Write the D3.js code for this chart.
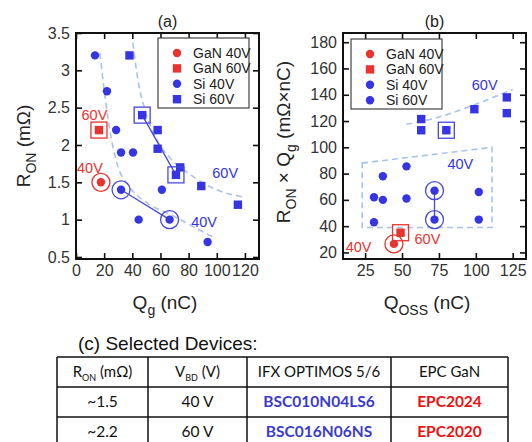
<!DOCTYPE html>
<html>
<head>
<meta charset="utf-8">
<script src="https://cdn.jsdelivr.net/npm/d3@7"></script>
<style>
  body { margin: 0; background: #fff; }
  svg { display: block; font-family: "Liberation Sans", Arial, sans-serif; }
</style>
</head>
<body>
<script>
// panel (a): Qg (nC) vs Ron (mOhm)
var ganA40 = [[17.7, 1.5]];
var ganA60 = [[16.3, 2.2]];
var siA40 = [[13.5, 3.2], [22, 2.72], [28.5, 2.2], [32, 1.9], [40.5, 1.9], [32, 1.4], [61, 1.4], [44.5, 1.0], [66.5, 1.0], [93.5, 0.7]];
var siA60 = [[38, 3.2], [47, 2.4], [58, 2.2], [58, 1.95], [74, 1.7], [71, 1.6], [89, 1.45], [115, 1.2]];
var trendA40 = [[17, 3.23], [20.6, 2.65], [24, 2.2], [29, 1.76], [38, 1.44], [50, 1.23], [67, 1.07], [81, 0.93], [97, 0.77]];
var trendA60 = [[40.4, 3.37], [44, 2.87], [49, 2.47], [57.4, 2.07], [66.7, 1.83], [83, 1.58], [100, 1.4], [120, 1.3]];
var pickA40 = [[32, 1.4], [66.5, 1.0]];
var pickA60 = [[47, 2.4], [71, 1.6]];

// panel (b): Qoss (nC) vs Ron x Qg
var ganB40 = [[44.5, 26.5]];
var ganB60 = [[49, 35]];
var siB40 = [[31, 62], [37, 78], [37, 60], [53, 85.5], [53, 61], [31, 43], [72, 67], [72, 45], [102, 66], [102, 45]];
var siB60 = [[63, 121.5], [63, 113], [80, 113], [99, 129], [121, 138], [121, 126]];
var trendB60 = [[53, 117.5], [75, 123], [98, 132], [125, 144]];
var regionB40 = [[23, 88], [111, 100], [111, 39], [23, 39]];
var pickB40 = [[72, 67], [72, 45]];
var pickB60 = [[80, 113]];

var ticksAx = [0, 20, 40, 60, 80, 100, 120];
var ticksAy = [0.5, 1, 1.5, 2, 2.5, 3, 3.5];
var ticksBx = [25, 50, 75, 100, 125];
var ticksBy = [20, 40, 60, 80, 100, 120, 140, 160, 180];

var legendA = [["GaN 40V", "red", "circle"], ["GaN 60V", "red", "square"], ["Si 40V", "blue", "circle"], ["Si 60V", "blue", "square"]];
var legendB = [["GaN 40V", "red", "circle"], ["GaN 60V", "red", "square"], ["Si 40V", "blue", "circle"], ["Si 60V", "blue", "circle"]];

var tableHead = ["R_ON (mΩ)", "V_BD (V)", "IFX OPTIMOS 5/6", "EPC GaN"];
var tableRows = [["~1.5", "40 V", "BSC010N04LS6", "EPC2024"], ["~2.2", "60 V", "BSC016N06NS", "EPC2020"]];

var BLUE = "#3535e3", RED = "#e8332e", DASH = "#a9c3e9", RING = "#4848dc";
var col = { red: RED, blue: BLUE };

var svg = d3.select("body").append("svg").attr("width", 532).attr("height", 442);

function panel(o) {
  var x = d3.scaleLinear().domain(o.xd).range(o.xr);
  var y = d3.scaleLinear().domain(o.yd).range([259, 33]);
  var g = svg.append("g");

  // axes with inward ticks on all sides
  function ax(a, t, tr, labels) {
    var s = g.append("g").attr("transform", tr).call(a.tickValues(t).tickSizeInner(-6).tickSizeOuter(0)
      .tickPadding(labels ? 6 : 0).tickFormat(labels ? function (d) { return String(d); } : ""));
    s.select(".domain").remove();
    s.selectAll("line").attr("stroke", "#111").attr("stroke-width", 1.6);
    s.selectAll("text").attr("fill", "#333").style("font-size", "16px").style("font-family", "Liberation Sans, Arial");
  }
  ax(d3.axisBottom(x), o.xt, "translate(0,259)", true);
  ax(d3.axisTop(x), o.xt, "translate(0,33)", false);
  ax(d3.axisLeft(y), o.yt, "translate(" + o.xr[0] + ",0)", true);
  ax(d3.axisRight(y), o.yt, "translate(" + o.xr[1] + ",0)", false);

  var line = d3.line().x(function (d) { return x(d[0]); }).y(function (d) { return y(d[1]); });

  // dashed trends
  o.trends.forEach(function (t) {
    g.append("path").attr("d", line.curve(t.closed ? d3.curveLinearClosed : d3.curveMonotoneX)(t.pts))
      .attr("fill", "none").attr("stroke", DASH).attr("stroke-width", 1.6).attr("stroke-dasharray", "6,4");
  });
  line.curve(d3.curveLinear);
  o.links.forEach(function (l) {
    g.append("path").attr("d", line(l)).attr("fill", "none").attr("stroke", RING).attr("stroke-width", 1.3);
  });

  // markers
  function dots(data, c) {
    g.selectAll(null).data(data).enter().append("circle")
      .attr("cx", function (d) { return x(d[0]); }).attr("cy", function (d) { return y(d[1]); })
      .attr("r", 4.2).attr("fill", c);
  }
  function squares(data, c) {
    g.selectAll(null).data(data).enter().append("rect")
      .attr("x", function (d) { return x(d[0]) - 4.2; }).attr("y", function (d) { return y(d[1]) - 4.2; })
      .attr("width", 8.4).attr("height", 8.4).attr("fill", c);
  }
  function rings(data, c) {
    g.selectAll(null).data(data).enter().append("circle")
      .attr("cx", function (d) { return x(d[0]); }).attr("cy", function (d) { return y(d[1]); })
      .attr("r", 9).attr("fill", "none").attr("stroke", c).attr("stroke-width", 1.3);
  }
  function boxes(data, c) {
    g.selectAll(null).data(data).enter().append("rect")
      .attr("x", function (d) { return x(d[0]) - 8; }).attr("y", function (d) { return y(d[1]) - 8; })
      .attr("width", 16).attr("height", 16).attr("fill", "none").attr("stroke", c).attr("stroke-width", 1.3);
  }
  squares(o.si60, BLUE);
  dots(o.si40, BLUE);
  squares(o.gan60, RED);
  dots(o.gan40, RED);
  rings(o.ring40, RING);
  boxes(o.box60, RING);
  rings(o.gan40, RED);
  boxes(o.gan60, RED);

  // annotations
  o.notes.forEach(function (n) {
    g.append("text").attr("x", x(n[1])).attr("y", y(n[2])).attr("dy", "0.35em")
      .attr("text-anchor", "middle").attr("fill", col[n[3]]).style("font-size", "14.5px").text(n[0]);
  });

  // frame
  g.append("rect").attr("x", o.xr[0]).attr("y", 33).attr("width", o.xr[1] - o.xr[0]).attr("height", 226)
    .attr("fill", "none").attr("stroke", "#111").attr("stroke-width", 2);

  // legend
  var lg = g.append("g").attr("transform", "translate(" + o.leg[0] + "," + o.leg[1] + ")");
  lg.append("rect").attr("width", 91).attr("height", 70).attr("fill", "#fff").attr("stroke", "#444").attr("stroke-width", 1.2);
  o.legend.forEach(function (d, i) {
    var yy = 15 + i * 15.4;
    if (d[2] === "circle") lg.append("circle").attr("cx", 19).attr("cy", yy).attr("r", 4.2).attr("fill", col[d[1]]);
    else lg.append("rect").attr("x", 14.8).attr("y", yy - 4.2).attr("width", 8.4).attr("height", 8.4).attr("fill", col[d[1]]);
    lg.append("text").attr("x", 35).attr("y", yy).attr("dy", "0.36em").attr("fill", "#222").style("font-size", "14px").text(d[0]);
  });

  // title
  g.append("text").attr("x", (o.xr[0] + o.xr[1]) / 2).attr("y", 27).attr("text-anchor", "middle")
    .attr("fill", "#222").style("font-size", "16px").text(o.title);
  return { x: x, y: y };
}

panel({
  xd: [0, 130], xr: [76, 259], yd: [0.473, 3.5], xt: ticksAx, yt: ticksAy,
  si40: siA40, si60: siA60, gan40: ganA40, gan60: ganA60,
  ring40: pickA40, box60: pickA60,
  trends: [{ pts: trendA40 }, { pts: trendA60 }], links: [pickA40, pickA60],
  notes: [["60V", 13.1, 2.4, "red"], ["40V", 9.9, 1.69, "red"], ["60V", 106, 1.62, "blue"], ["40V", 91, 0.97, "blue"]],
  leg: [158, 38], legend: legendA, title: "(a)"
});

panel({
  xd: [10, 134], xr: [343, 526], yd: [15, 187], xt: ticksBx, yt: ticksBy,
  si40: siB40, si60: siB60, gan40: ganB40, gan60: ganB60,
  ring40: pickB40, box60: pickB60,
  trends: [{ pts: trendB60 }, { pts: regionB40, closed: true }], links: [pickB40],
  notes: [["60V", 106, 147.4, "blue"], ["40V", 89.5, 87.3, "blue"], ["60V", 67.2, 30.2, "red"], ["40V", 20.6, 24.1, "red"]],
  leg: [351, 39], legend: legendB, title: "(b)"
});

// axis titles with subscripts
function subText(sel, parts) {
  parts.forEach(function (p) {
    var t = sel.append("tspan").text(p[0]);
    if (p[1] === "sub") t.style("font-size", "14px").attr("dy", 6);
    else if (p[1] === "up") t.attr("dy", -6);
  });
}
var tA = svg.append("text").attr("transform", "translate(30,146) rotate(-90)").attr("text-anchor", "middle")
  .attr("fill", "#222").style("font-size", "19px");
subText(tA, [["R"], ["ON", "sub"], [" (mΩ)", "up"]]);
var tB = svg.append("text").attr("transform", "translate(290,142) rotate(-90)").attr("text-anchor", "middle")
  .attr("fill", "#222").style("font-size", "19px");
subText(tB, [["R"], ["ON", "sub"], [" × Q", "up"], ["g", "sub"], [" (mΩ×nC)", "up"]]);
var xA = svg.append("text").attr("x", 165).attr("y", 309).attr("text-anchor", "middle").attr("fill", "#222").style("font-size", "19px");
subText(xA, [["Q"], ["g", "sub"], [" (nC)", "up"]]);
var xB = svg.append("text").attr("x", 427).attr("y", 309).attr("text-anchor", "middle").attr("fill", "#222").style("font-size", "19px");
subText(xB, [["Q"], ["OSS", "sub"], [" (nC)", "up"]]);

// (c) table
svg.append("text").attr("x", 78).attr("y", 350).attr("fill", "#111").style("font-size", "19px").text("(c) Selected Devices:");
var colX = [57, 148, 247, 391, 508];
var rowY = [357, 387, 417, 447];
var tg = svg.append("g").style("font-family", "Lato, 'Open Sans', sans-serif");
rowY.forEach(function (yy) {
  tg.append("line").attr("x1", colX[0]).attr("x2", colX[4]).attr("y1", yy).attr("y2", yy).attr("stroke", "#111").attr("stroke-width", 1.5);
});
colX.forEach(function (xx) {
  tg.append("line").attr("x1", xx).attr("x2", xx).attr("y1", rowY[0]).attr("y2", rowY[3]).attr("stroke", "#111").attr("stroke-width", 1.5);
});
tableHead.forEach(function (h, i) {
  var t = tg.append("text").attr("x", (colX[i] + colX[i + 1]) / 2).attr("y", 372).attr("dy", "0.35em")
    .attr("text-anchor", "middle").attr("fill", "#111").style("font-size", "15px");
  var m = h.match(/^(\w)_(\w+)(.*)$/);
  if (m) {
    t.append("tspan").text(m[1]);
    t.append("tspan").text(m[2]).style("font-size", "9px").attr("dy", 4);
    t.append("tspan").text(m[3]).attr("dy", -4);
  } else t.text(h);
});
tableRows.forEach(function (r, j) {
  r.forEach(function (v, i) {
    tg.append("text").attr("x", (colX[i] + colX[i + 1]) / 2).attr("y", 402 + j * 30).attr("dy", "0.35em")
      .attr("text-anchor", "middle").style("font-size", "15.5px")
      .attr("fill", i === 2 ? "#3a3ad0" : i === 3 ? "#f01010" : "#111")
      .style("font-weight", i >= 2 ? "bold" : "normal").text(v);
  });
});
</script>
</body>
</html>
